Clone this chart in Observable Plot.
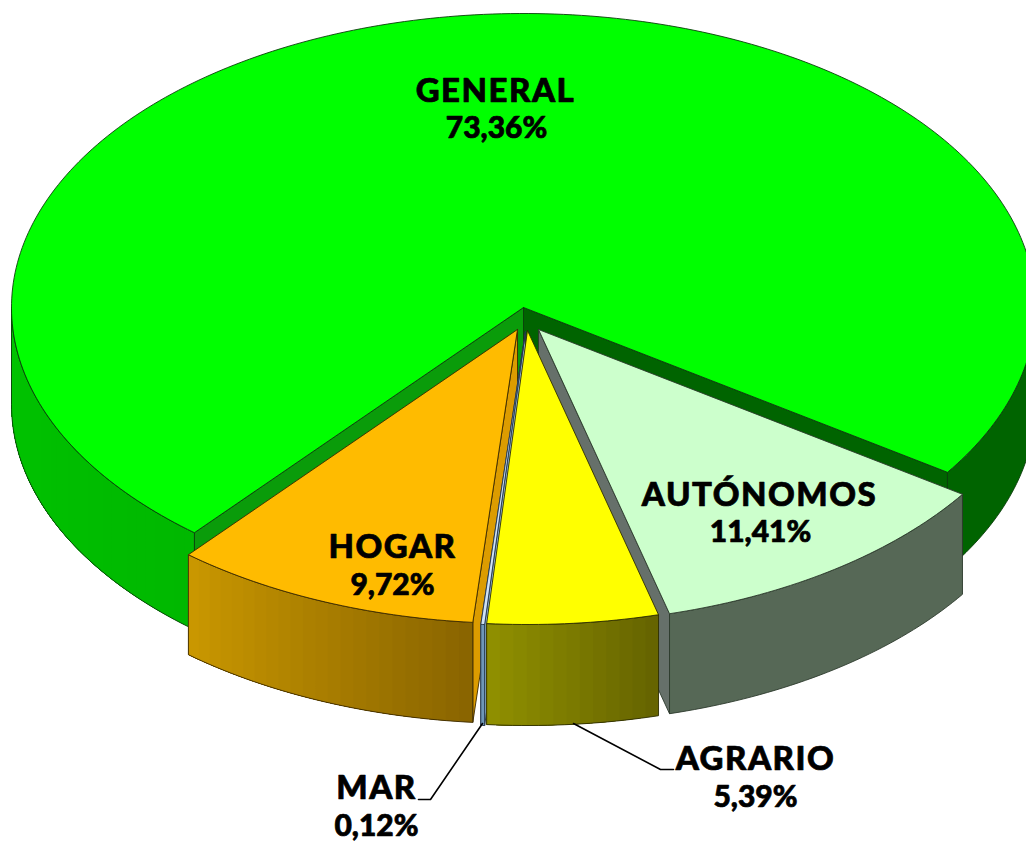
<!DOCTYPE html>
<html>
<head>
<meta charset="utf-8">
<script src="https://cdn.jsdelivr.net/npm/d3@7"></script>
<script src="https://cdn.jsdelivr.net/npm/@observablehq/plot@0.6"></script>
<style>html,body{margin:0;padding:0;background:#fff;overflow:hidden}</style>
</head>
<body>
<div id="chart"></div>
<script>
// Data
const categories = ["GENERAL", "AUTÓNOMOS", "AGRARIO", "MAR", "HOGAR"];
const shares = [73.36, 11.41, 5.39, 0.12, 9.72];

// Pie layout (pixels in the identity x / y scales)
const W = 1026, H = 842;
const startAngle = 130;
const rx = 512, ry = 294;
const depths = [97, 100, 101, 101, 100];
const apexX = [523, 538, 527, 525, 517];
const apexY = [307, 329, 330, 331, 329];

// Styles
const topColors = ["#00ff00", "#ccffcc", "#ffff00", "#cfe2f5", "#ffbb00"];
const wallFrom = ["#00c400", "#566856", "#8f8f00", "#6f97b8", "#c99700"];
const wallTo = ["#00b800", "#566856", "#666400", "#6f97b8", "#8a6500"];
const wallRight = "#006400";
const faceEnd = ["#006400", "#66706a", null, "#8fb5d8", null];   // face along the slice's closing angle
const faceStart = ["#0a9c0a", null, null, "#8fb5d8", "#dc9c00"]; // face along the slice's opening angle
const outline = ["#0b3d0b", "#2c3a2c", "#2e2e00", "#24364a", "#3c2a00"];

// Label layout
const nameX = [495, 759, 755, 376, 392];
const nameY = [91, 495, 759, 788, 547];
const valueX = [496, 760, 755, 376, 392];
const valueY = [128, 532, 797, 826, 585];
const leaderLines = [
  {name: "AGRARIO", px: [573, 660, 673], py: [723, 769, 769]},
  {name: "MAR", px: [482, 430, 418], py: [723, 799, 799]}
];

const rad = Math.PI / 180;
const rim = (i, t) => [apexX[i] + rx * Math.cos(t * rad), apexY[i] + ry * Math.sin(t * rad)];

let acc = startAngle;
const slices = categories.map((name, i) => {
  const a0 = acc; acc += shares[i] * 3.6;
  return {name, i, a0, a1: acc};
});

// Helpers that turn the slices into polygons for Plot.line
const poly = (id, color, pts) => pts.map(([x, y]) => ({id, color, x, y}));
const lineMark = (rows, opts) => Plot.line(rows, {x: "x", y: "y", z: "id", curve: "linear", ...opts});

function arcPts(i, a, b) {
  const pts = [];
  const n = Math.max(2, Math.ceil(Math.abs(b - a)));
  for (let k = 0; k <= n; k++) pts.push(rim(i, a + (b - a) * k / n));
  return pts;
}
function facePoly(i, t) {
  const [x, y] = rim(i, t), ax = apexX[i], ay = apexY[i], d = depths[i];
  return [[ax, ay], [x, y], [x, y + d], [ax, ay + d], [ax, ay]];
}
function wallPts(i, a, b) {
  const top = arcPts(i, a, b);
  const bottom = top.map(([x, y]) => [x, y + depths[i]]).reverse();
  return [...top, ...bottom, top[0]];
}
function visibleRanges(s) {
  const out = [];
  for (const shift of [0, 360]) {
    const a = Math.max(s.a0, shift), b = Math.min(s.a1, shift + 180);
    if (a < b) out.push([a, b]);
  }
  return out;
}

const marks = [];
for (const s of [slices[0], slices[1], slices[4], slices[3], slices[2]]) {
  const i = s.i;
  const stroke = outline[i];
  const wid = 0.9;
  // Cut faces first
  if (faceEnd[i]) marks.push(lineMark(poly("fe", faceEnd[i], facePoly(i, s.a1)), {fill: "color", stroke, strokeWidth: wid}));
  if (faceStart[i]) marks.push(lineMark(poly("fs", faceStart[i], facePoly(i, s.a0)), {fill: "color", stroke, strokeWidth: wid}));
  // Outer wall, shaded in bands painted over one another so no seams show
  for (const [a, b] of visibleRanges(s)) {
    const right = i === 0 && a >= 360;
    const flat = right || wallFrom[i] === wallTo[i];
    const bands = flat ? 1 : Math.max(1, Math.round((b - a) / 1.5));
    const shade = d3.interpolateRgb(wallTo[i], wallFrom[i]);
    const rows = [];
    for (let k = 0; k < bands; k++) {
      const c = right ? wallRight : d3.color(shade(bands > 1 ? k / (bands - 1) : 0)).formatHex();
      rows.push(...poly("b" + k, c, wallPts(i, a + (b - a) * k / bands, b)));
    }
    marks.push(lineMark(rows, {fill: "color", stroke: "none"}));
    marks.push(lineMark(poly("w", "x", wallPts(i, a, b)), {stroke, strokeWidth: wid}));
  }
  // Top
  const ax = apexX[i], ay = apexY[i];
  marks.push(lineMark(poly("t", topColors[i], [[ax, ay], ...arcPts(i, s.a0, s.a1), [ax, ay]]), {fill: "color", stroke, strokeWidth: wid}));
}

// Leader lines
for (const l of leaderLines) {
  marks.push(Plot.line(l.px.map((x, k) => ({x, y: l.py[k]})), {x: "x", y: "y", stroke: "#000", strokeWidth: 1.6, curve: "linear"}));
}

// Labels
const nameRows = slices.map((s, i) => ({x: nameX[i], y: nameY[i], text: s.name}));
const valueRows = slices.map((s, i) => ({x: valueX[i], y: valueY[i], text: shares[i].toFixed(2).replace(".", ",") + "%"}));
const textStyle = {x: "x", y: "y", text: "text", fill: "#000", stroke: "#000", strokeWidth: 0.7, fontFamily: "Lato", fontWeight: 900, textAnchor: "middle"};
marks.push(Plot.text(nameRows, {...textStyle, fontSize: 33}));
marks.push(Plot.text(valueRows, {...textStyle, fontSize: 30}));

const chart = Plot.plot({
  width: W, height: H,
  marginTop: 0, marginRight: 0, marginBottom: 0, marginLeft: 0,
  style: {background: "#fff"},
  x: {domain: [0, W], range: [0, W], axis: null},
  y: {domain: [0, H], range: [0, H], axis: null},
  color: {type: "identity"},
  marks
});
chart.querySelectorAll("text").forEach(t => {
  if (categories.includes(t.textContent)) t.style.letterSpacing = "1.5px";
});
document.getElementById("chart").appendChild(chart);
</script>
</body>
</html>
